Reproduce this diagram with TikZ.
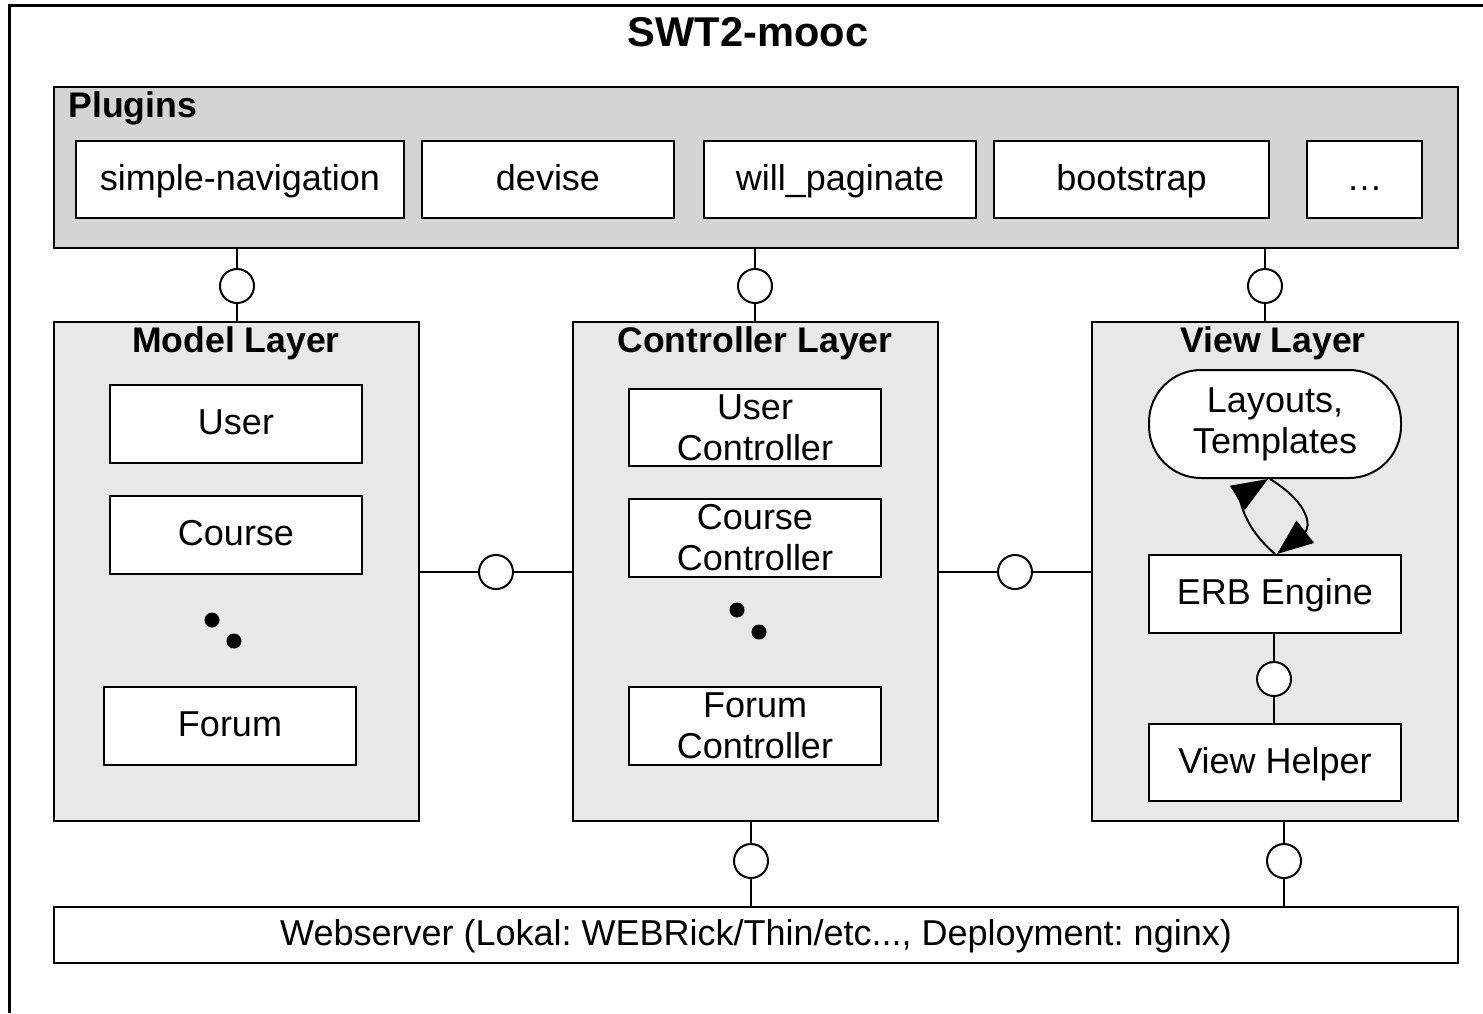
\documentclass[tikz,border=0pt]{standalone}
\usepackage{fontspec}
\setmainfont{Liberation Sans}
\usetikzlibrary{arrows.meta}
\definecolor{plugfill}{RGB}{212,212,212}
\definecolor{layerfill}{RGB}{232,232,232}
\begin{document}
\frenchspacing
\begin{tikzpicture}[x=0.5pt,y=-0.5pt,
  every node/.style={font=\fontsize{18}{20.5}\selectfont},
  box/.style={draw, fill=white, line width=1pt, minimum width=126pt, minimum height=38.5pt, inner sep=0pt, align=center},
  oneline/.style={text height=14.6pt, text depth=3.8pt},
  group/.style={draw, line width=1pt, inner sep=0pt},
  lolli/.style={draw, fill=white, circle, minimum size=17pt, inner sep=0pt, line width=1pt},
  conn/.style={line width=1pt},
  lbl/.style={font=\bfseries\fontsize{17.8}{20}\selectfont, inner sep=0pt, text height=13pt, text depth=3.8pt},
  dotmark/.style={fill=black, circle, minimum size=7.5pt, inner sep=0pt},
  loop/.style={line width=1pt, -{Triangle[length=18pt,width=14pt]}}
]
\useasboundingbox (0,0) rectangle (1483,1013);
\fill[white] (0,0) rectangle (1483,1013);
% outer frame (cut off at right and bottom)
\draw[line width=1.5pt] (9,1013) -- (9,5) -- (1483,5);
\node[font=\bfseries\fontsize{20.8}{24}\selectfont, inner sep=0pt] (title) at (748,32) {SWT2-mooc};

% Plugins
\node[group, fill=plugfill, minimum width=702pt, minimum height=80.5pt] (plugins) at (756,167.5) {};
\node[lbl, anchor=west] (pluginslbl) at (68,108) {Plugins};
\node[box, oneline, minimum width=164pt] (simplenav) at (240,179.5) {simple-navigation};
\node[box, oneline] (devise) at (548,179.5) {devise};
\node[box, oneline, minimum width=136pt] (willpag) at (840,179.5) {will\_paginate};
\node[box, oneline, minimum width=137.5pt] (bootstrap) at (1131.5,179.5) {bootstrap};
\node[box, oneline, minimum width=57.5pt] (more) at (1364.5,179.5) {…};

% Layers
\node[group, fill=layerfill, minimum width=182.5pt, minimum height=249.5pt] (model) at (236.5,571.5) {};
\node[group, fill=layerfill, minimum width=182.5pt, minimum height=249.5pt] (ctrl) at (755.5,571.5) {};
\node[group, fill=layerfill, minimum width=183pt, minimum height=249.5pt] (view) at (1275,571.5) {};
\node[lbl] (modellbl) at (236,343) {Model Layer};
\node[lbl] (ctrllbl) at (755,343) {Controller Layer};
\node[lbl] (viewlbl) at (1273,343) {View Layer};

% Model items
\node[box, oneline, minimum height=39pt] (user) at (236,424) {User};
\node[box, oneline, minimum height=39pt] (course) at (236,535) {Course};
\node[dotmark] (md1) at (212,620) {};
\node[dotmark] (md2) at (234,641) {};
\node[box, oneline, minimum height=39pt] (forum) at (230,726) {Forum};

% Controller items
\node[box] (userc) at (755,427.5) {User\\Controller};
\node[box, minimum height=39pt] (coursec) at (755,538) {Course\\Controller};
\node[dotmark] (cd1) at (737,610) {};
\node[dotmark] (cd2) at (759,632) {};
\node[box, minimum height=39pt] (forumc) at (755,726) {Forum\\Controller};

% View items
\node[box, minimum height=54pt, rounded corners=26pt] (layouts) at (1275,424) {Layouts,\\Templates};
\node[box, oneline, minimum height=39pt] (erb) at (1275,594) {ERB Engine};
\node[box, oneline] (helper) at (1275,762.5) {View Helper};
\node[lolli] (lv) at (1274,679) {};
\draw[conn] (lv |- erb.south) -- (lv) -- (lv |- helper.north);
\draw[loop] (erb.north) .. controls (1238,522) and (1242,495) .. ([xshift=-3.5pt]layouts.south);
\draw[loop] ([xshift=-2.5pt]layouts.south) .. controls (1312,505) and (1310,528) .. ([xshift=1pt]erb.north);

% Plugin lollipops
\node[lolli] (p1) at (237,286) {};
\node[lolli] (p2) at (755,286) {};
\node[lolli] (p3) at (1265,286) {};
\draw[conn] (p1 |- plugins.south) -- (p1) -- (p1 |- model.north);
\draw[conn] (p2 |- plugins.south) -- (p2) -- (p2 |- ctrl.north);
\draw[conn] (p3 |- plugins.south) -- (p3) -- (p3 |- view.north);

% Horizontal lollipops
\node[lolli] (h1) at (496,572) {};
\node[lolli] (h2) at (1015,572) {};
\draw[conn] (h1 -| model.east) -- (h1) -- (h1 -| ctrl.west);
\draw[conn] (h2 -| ctrl.east) -- (h2) -- (h2 -| view.west);

% Webserver
\node[box, oneline, minimum width=702pt, minimum height=28pt] (web) at (756,935) {Webserver (Lokal: WEBRick/Thin/etc..., Deployment: nginx)};
\node[lolli] (b1) at (751,861) {};
\node[lolli] (b2) at (1284,861) {};
\draw[conn] (b1 |- ctrl.south) -- (b1) -- (b1 |- web.north);
\draw[conn] (b2 |- view.south) -- (b2) -- (b2 |- web.north);
\end{tikzpicture}
\end{document}
